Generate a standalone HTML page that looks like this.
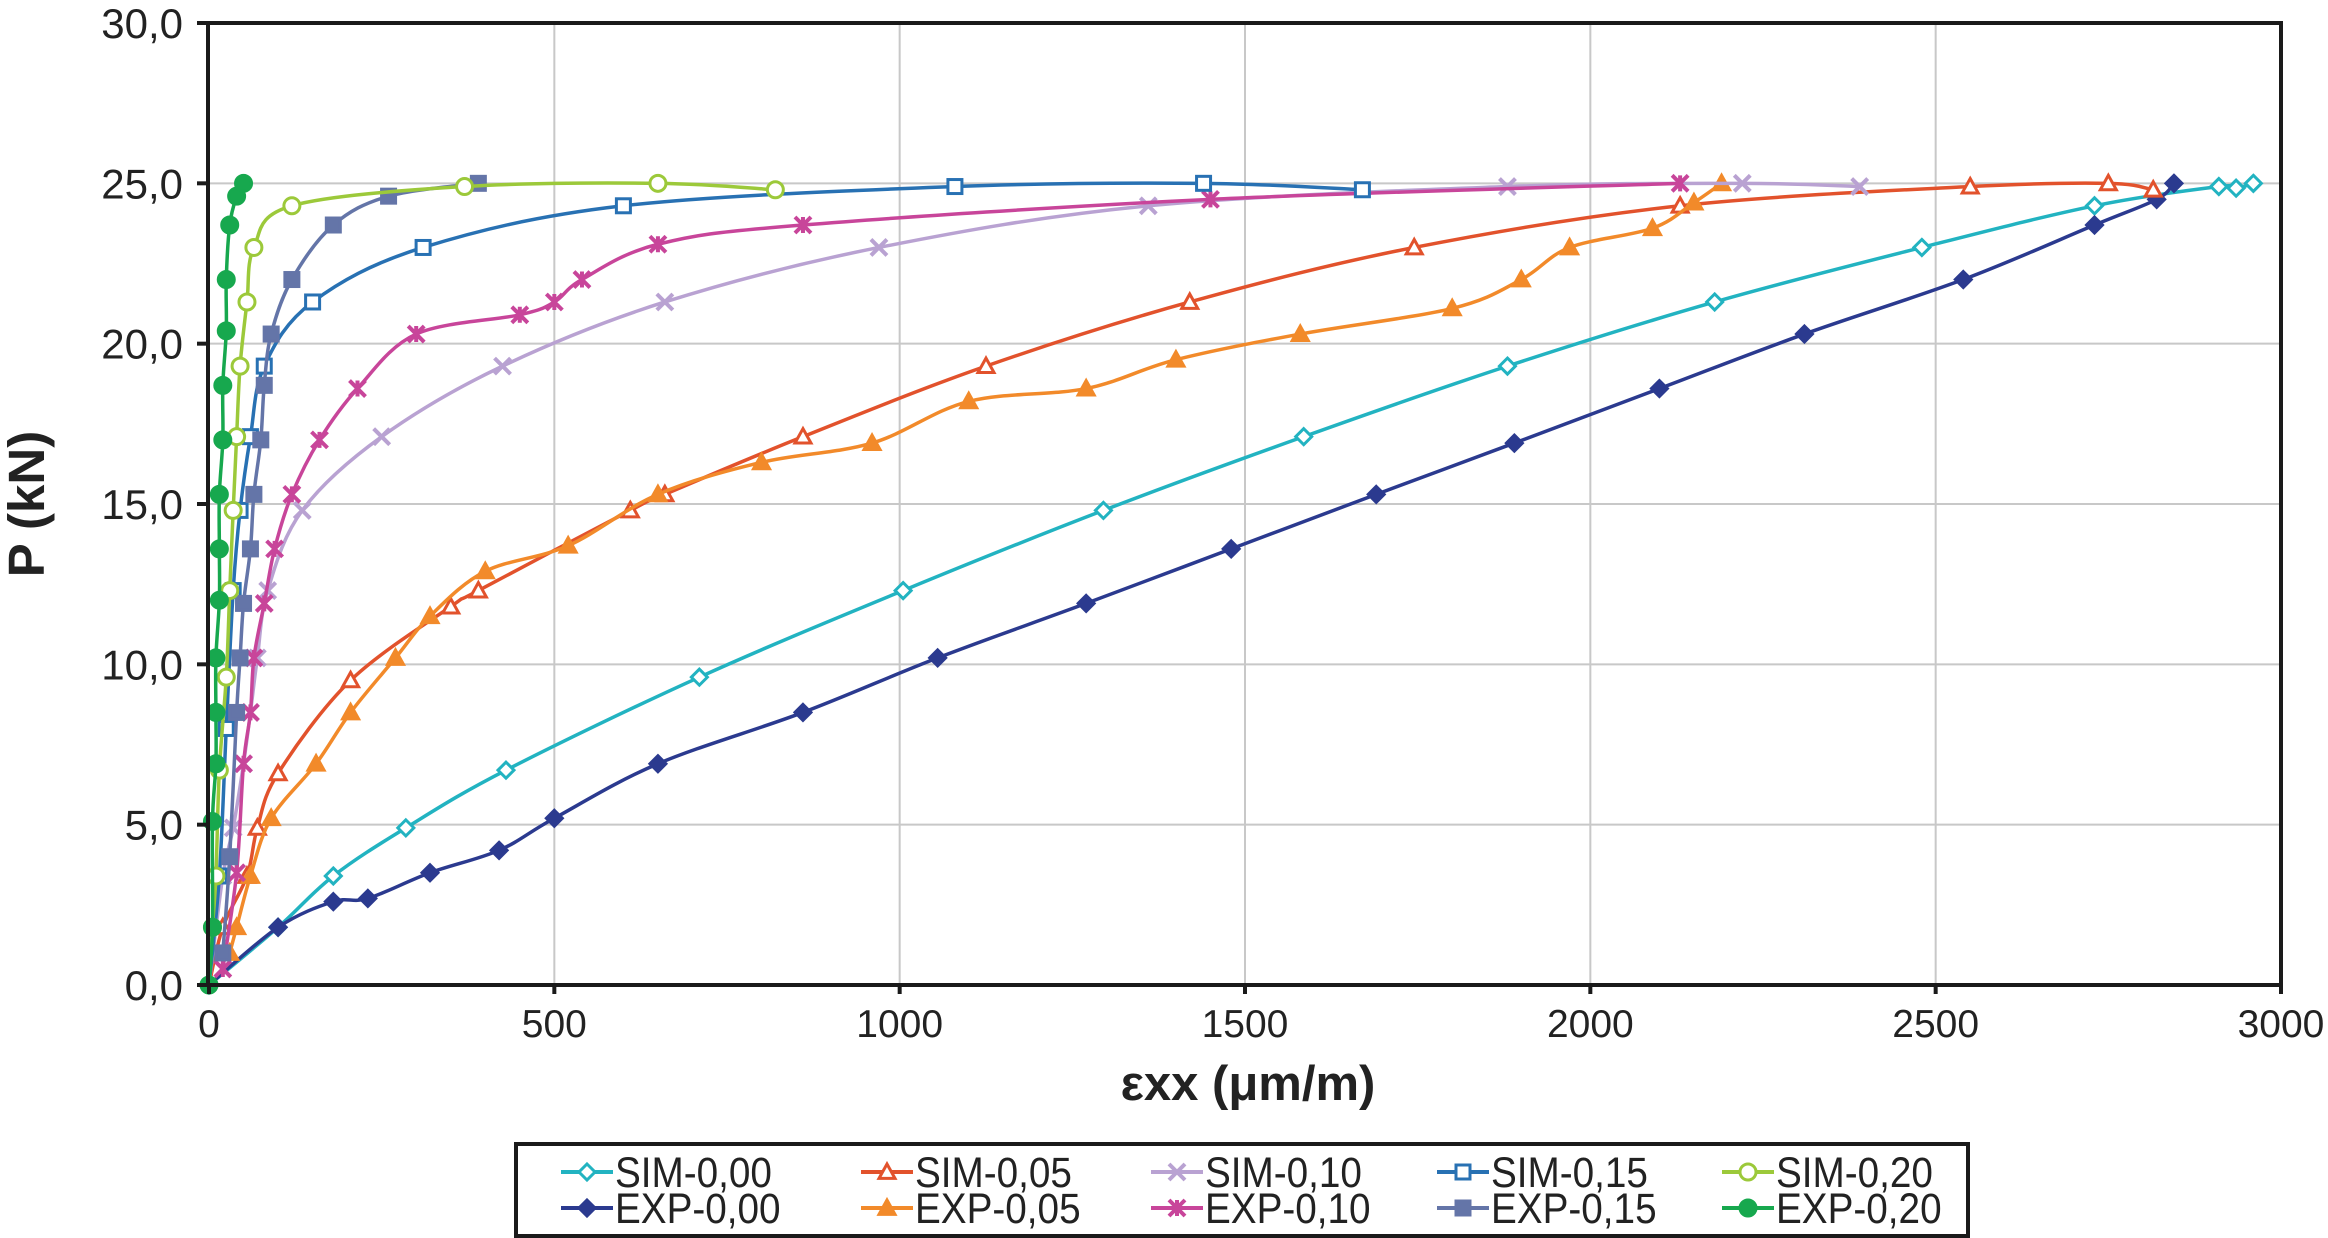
<!DOCTYPE html>
<html><head><meta charset="utf-8">
<style>
html,body{margin:0;padding:0;background:#fff;}
svg{display:block;}
text{font-family:"Liberation Sans",sans-serif;fill:#222;}
</style></head>
<body>
<svg id="chart" width="2328" height="1238" viewBox="0 0 2328 1238" xmlns="http://www.w3.org/2000/svg">
<g id="grid"></g>
<g id="series"></g>
<rect x="208" y="23" width="2073" height="962" fill="none" stroke="#1a1a1a" stroke-width="4"/>
<g id="axes"></g>
<text transform="translate(44,504) rotate(-90)" text-anchor="middle" font-size="51" font-weight="bold">P (kN)</text>
<text x="1248" y="1100" text-anchor="middle" font-size="49" font-weight="bold">εxx (μm/m)</text>
<rect x="516" y="1144" width="1452" height="92" fill="#fff" stroke="#1a1a1a" stroke-width="4"/>
<g id="legend"></g>
</svg>
<script>
const xTicks=[0,500,1000,1500,2000,2500,3000];
const yTicks=[0,5,10,15,20,25,30];
const yTickLabels=["0,0","5,0","10,0","15,0","20,0","25,0","30,0"];
const seriesNames=["SIM-0,00","EXP-0,00","SIM-0,05","EXP-0,05","SIM-0,10","EXP-0,10","SIM-0,15","EXP-0,15","SIM-0,20","EXP-0,20"];
const sim000=[[0,0],[100,1.8],[180,3.4],[285,4.9],[430,6.7],[710,9.6],[1005,12.3],[1295,14.8],[1585,17.1],[1880,19.3],[2180,21.3],[2480,23],[2730,24.3],[2910,24.9],[2935,24.85],[2960,25]];
const exp000=[[0,0],[100,1.8],[180,2.6],[230,2.7],[320,3.5],[420,4.2],[500,5.2],[650,6.9],[860,8.5],[1055,10.2],[1270,11.9],[1480,13.6],[1690,15.3],[1890,16.9],[2100,18.6],[2310,20.3],[2540,22],[2730,23.7],[2820,24.5],[2845,25]];
const sim005=[[0,0],[20,1.8],[55,3.4],[70,4.9],[100,6.6],[205,9.5],[350,11.8],[390,12.3],[610,14.8],[660,15.3],[860,17.1],[1125,19.3],[1420,21.3],[1745,23],[2130,24.3],[2550,24.9],[2750,25],[2815,24.8]];
const exp005=[[30,1],[40,1.8],[60,3.4],[90,5.2],[155,6.9],[205,8.5],[270,10.2],[320,11.5],[400,12.9],[520,13.7],[650,15.3],[800,16.3],[960,16.9],[1100,18.2],[1270,18.6],[1400,19.5],[1580,20.3],[1800,21.1],[1900,22],[1970,23],[2090,23.6],[2150,24.4],[2190,25]];
const sim010=[[0,0],[20,3.4],[35,4.9],[50,6.9],[60,8.5],[70,10.2],[85,12.3],[135,14.8],[250,17.1],[425,19.3],[660,21.3],[970,23],[1360,24.3],[1880,24.9],[2220,25],[2390,24.9]];
const exp010=[[20,0.5],[40,3.5],[50,6.9],[60,8.5],[65,10.2],[80,11.9],[95,13.6],[120,15.3],[160,17],[215,18.6],[300,20.3],[450,20.9],[500,21.3],[540,22],[650,23.1],[860,23.7],[1450,24.5],[2130,25]];
const sim015=[[0,0],[15,3.4],[25,8],[35,12.3],[45,14.8],[60,17.1],[80,19.3],[150,21.3],[310,23],[600,24.3],[1080,24.9],[1440,25],[1670,24.8]];
const exp015=[[20,1],[30,4],[40,8.5],[45,10.2],[50,11.9],[60,13.6],[65,15.3],[75,17],[80,18.7],[90,20.3],[120,22],[180,23.7],[260,24.6],[390,25]];
const sim020=[[0,0],[5,1.8],[10,3.4],[15,6.7],[25,9.6],[30,12.3],[35,14.8],[40,17.1],[45,19.3],[55,21.3],[65,23],[120,24.3],[370,24.9],[650,25],[820,24.8]];
const exp020=[[0,0],[5,1.8],[5,5.1],[10,6.9],[10,8.5],[10,10.2],[15,12],[15,13.6],[15,15.3],[20,17],[20,18.7],[25,20.4],[25,22],[30,23.7],[40,24.6],[50,25]];

const NS="http://www.w3.org/2000/svg";
const X0=209,X1=2281,Y0=985,Y1=23;
function sx(v){return X0+(v/3000)*(X1-X0);}
function sy(v){return Y0-(v/30)*(Y0-Y1);}
function mk(tag,attrs,parent){const e=document.createElementNS(NS,tag);for(const k in attrs)e.setAttribute(k,attrs[k]);parent.appendChild(e);return e;}

const grid=document.getElementById('grid'),axes=document.getElementById('axes');
xTicks.forEach((t,i)=>{
  if(i>0&&i<xTicks.length-1){const l=mk('line',{x1:sx(t),x2:sx(t),y1:Y1,y2:Y0,stroke:'#c8c8c8','stroke-width':2},grid);
  
  }
  const tk=mk('line',{x1:sx(t),x2:sx(t),y1:Y0,y2:Y0+9,stroke:'#1a1a1a','stroke-width':4},axes);
  
  
  const tx=mk('text',{x:sx(t),y:Y0+52,'text-anchor':'middle','font-size':39},axes);
  tx.textContent=String(t);
  
  
});
yTicks.forEach((t,i)=>{
  if(i>0&&i<yTicks.length-1){const l=mk('line',{x1:X0,x2:X1,y1:sy(t),y2:sy(t),stroke:'#c8c8c8','stroke-width':2},grid);
  
  }
  const tk=mk('line',{x1:X0-12,x2:X0,y1:sy(t),y2:sy(t),stroke:'#1a1a1a','stroke-width':4},axes);
  
  
  const tx=mk('text',{x:183,y:sy(t)+15,'text-anchor':'end','font-size':42},axes);
  tx.textContent=yTickLabels[i];
  
  
});

function smooth(pts){
  let d='M'+pts[0][0]+','+pts[0][1];
  for(let i=0;i<pts.length-1;i++){
    const p0=pts[i-1]||pts[i],p1=pts[i],p2=pts[i+1],p3=pts[i+2]||p2;
    const c1x=p1[0]+(p2[0]-p0[0])/6,c1y=p1[1]+(p2[1]-p0[1])/6;
    const c2x=p2[0]-(p3[0]-p1[0])/6,c2y=p2[1]-(p3[1]-p1[1])/6;
    d+=' C'+c1x+','+c1y+' '+c2x+','+c2y+' '+p2[0]+','+p2[1];
  }
  return d;
}
function marker(g,type,x,y,color,filled){
  const r=8;let e;
  const fill=filled?color:'#fff';
  if(type==='diamond'){e=mk('polygon',{points:`${x},${y-r} ${x+r},${y} ${x},${y+r} ${x-r},${y}`,fill:fill,stroke:color,'stroke-width':3},g);}
  else if(type==='triangle'){e=mk('polygon',{points:`${x},${y-r} ${x+r},${y+r*0.8} ${x-r},${y+r*0.8}`,fill:fill,stroke:color,'stroke-width':3},g);}
  else if(type==='square'){e=mk('rect',{x:x-r+1,y:y-r+1,width:2*r-2,height:2*r-2,fill:fill,stroke:color,'stroke-width':3},g);}
  else if(type==='circle'){e=mk('circle',{cx:x,cy:y,r:r,fill:fill,stroke:color,'stroke-width':3},g);}
  else if(type==='x'){e=mk('path',{d:`M${x-r},${y-r}L${x+r},${y+r}M${x-r},${y+r}L${x+r},${y-r}`+(filled?`M${x},${y-r}L${x},${y+r}`:''),stroke:color,'stroke-width':4,fill:'none'},g);}
  
  
}
const seriesData=[sim000,exp000,sim005,exp005,sim010,exp010,sim015,exp015,sim020,exp020];
const colors=['#22b3c1','#2b3a8f','#e2522c','#f28a2a','#b9a2d2','#c8459a','#2871b3','#6475a8','#9cc93a','#17a84e'];
const types=['diamond','diamond','triangle','triangle','x','x','square','square','circle','circle'];
const sg=document.getElementById('series');
seriesData.forEach((data,i)=>{
  const g=mk('g',{},sg);
  
  
  const pts=data.map(p=>[sx(p[0]),sy(p[1])]);
  const path=mk('path',{d:smooth(pts),fill:'none',stroke:colors[i],'stroke-width':3.5},g);
  
  
  pts.forEach((p,j)=>{if(j>0||i%2===1)marker(g,types[i],p[0],p[1],colors[i],i%2===1);});
});

const lg=document.getElementById('legend');
const colX=[561,861,1151,1437,1722];
seriesNames.forEach((n,i)=>{
  const c=Math.floor(i/2),r=i%2;
  const x=colX[c],y=r===0?1172:1208;
  const g=mk('g',{},lg);
  
  
  const l=mk('line',{x1:x,x2:x+52,y1:y,y2:y,stroke:colors[i],'stroke-width':4},g);
  
  
  marker(g,types[i],x+26,y,colors[i],r===1);
  const tx0=x+54;
  const t=mk('text',{x:tx0,y:y+15,'font-size':43,transform:`translate(${tx0*0.1},0) scale(0.9,1)`},g);
  t.textContent=n;
  
  
});
</script>
</body></html>
